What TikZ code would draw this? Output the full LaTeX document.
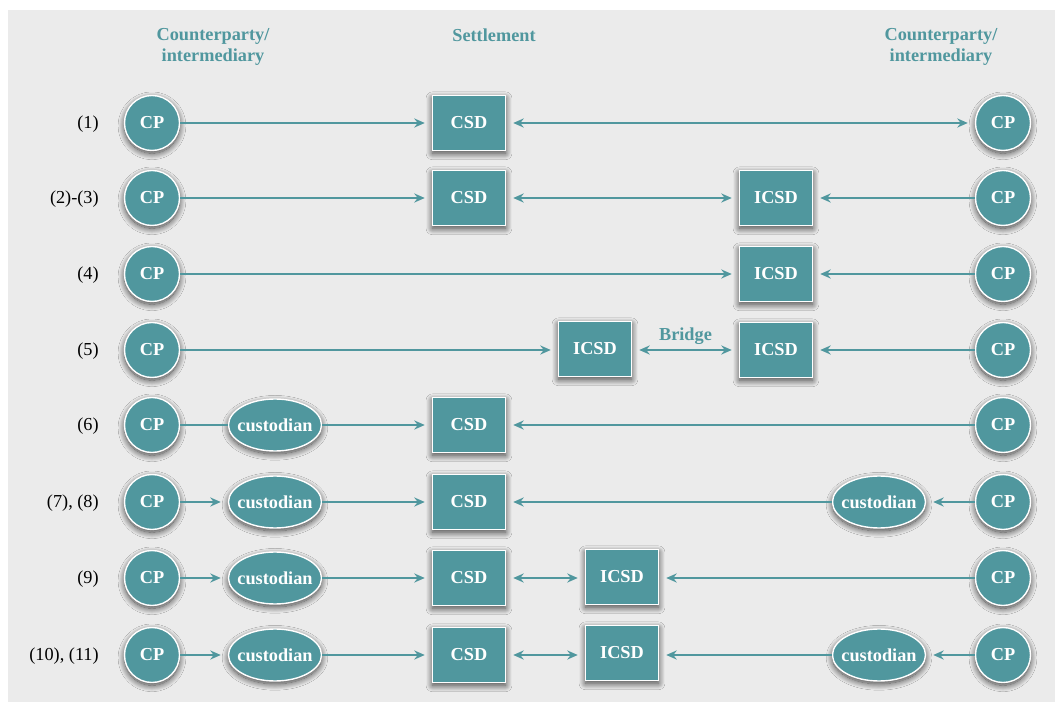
\documentclass[tikz,border=0pt]{standalone}
\usepackage{fontspec}
\setmainfont{Liberation Serif}
\usepackage{xcolor}
\usepackage{tikz}
\usetikzlibrary{shapes, arrows.meta, positioning, shadows.blur}
\definecolor{cpteal}{RGB}{80,151,158}
\definecolor{panelgray}{RGB}{235,235,235}
\tikzstyle{shade} = [blur shadow={shadow xshift=0pt, shadow yshift=-2pt, shadow blur radius=4.5pt, shadow blur steps=25, shadow opacity=75}]
\tikzstyle{cp} = [circle, draw=white, line width=1pt, fill=cpteal, text=white, font=\bfseries, minimum size=1.375cm, inner sep=0pt, shade]
\tikzstyle{sd} = [rectangle, draw=white, line width=1pt, fill=cpteal, text=white, font=\bfseries, minimum width=1.825cm, minimum height=1.375cm, inner sep=0pt, shade]
\tikzstyle{cust} = [ellipse, draw=white, line width=1pt, fill=cpteal, text=white, font=\bfseries, minimum width=2.325cm, minimum height=1.3cm, inner xsep=-5pt, inner ysep=0pt, shade]
\tikzstyle{head} = [text=cpteal, font=\bfseries, align=center]
\tikzstyle{rowlabel} = [anchor=east, inner sep=0pt]
\tikzstyle{line} = [draw=cpteal, line width=1pt]
\tikzstyle{arrow} = [line, -{Stealth[length=7.5pt, width=6.5pt, inset=2.5pt]}, shorten >=5pt]
\tikzstyle{darrow} = [line, {Stealth[length=7.5pt, width=6.5pt, inset=2.5pt]}-{Stealth[length=7.5pt, width=6.5pt, inset=2.5pt]}, shorten >=5pt, shorten <=5pt]

\begin{document}
\fontsize{13}{15}\selectfont
\begin{tikzpicture}[x=0.025cm, y=-0.025cm]
    \useasboundingbox (0,0) rectangle (1055,702);
    \fill[panelgray] (8,10) rectangle (1055,702);

    \node (headL) [head] at (213,47) {Counterparty/\\intermediary};
    \node (headS) [head] at (494,35) {Settlement};
    \node (headR) [head] at (941,47) {Counterparty/\\intermediary};

    \node (lbl1) [rowlabel] at (99,124) {(1)};
    \node (lbl2) [rowlabel] at (99,199) {(2)-(3)};
    \node (lbl4) [rowlabel] at (99,275) {(4)};
    \node (lbl5) [rowlabel] at (99,351) {(5)};
    \node (lbl6) [rowlabel] at (99,426) {(6)};
    \node (lbl7) [rowlabel] at (99,503) {(7), (8)};
    \node (lbl9) [rowlabel] at (99,579) {(9)};
    \node (lbl10) [rowlabel] at (99,656) {(10), (11)};

    \node (cpL1) [cp] at (152,123) {CP};
    \node (csd1) [sd] at (469,123) {CSD};
    \node (cpR1) [cp] at (1003,123) {CP};

    \node (cpL2) [cp] at (152,198) {CP};
    \node (csd2) [sd] at (469,198) {CSD};
    \node (icsd2) [sd] at (776,198) {ICSD};
    \node (cpR2) [cp] at (1003,198) {CP};

    \node (cpL4) [cp] at (152,274) {CP};
    \node (icsd4) [sd] at (776,274) {ICSD};
    \node (cpR4) [cp] at (1003,274) {CP};

    \node (cpL5) [cp] at (152,350) {CP};
    \node (icsdA5) [sd] at (595,349) {ICSD};
    \node (icsdB5) [sd] at (776,350) {ICSD};
    \node (cpR5) [cp] at (1003,350) {CP};

    \node (cpL6) [cp] at (152,425) {CP};
    \node (custL6) [cust] at (275,425) {custodian};
    \node (csd6) [sd] at (469,425) {CSD};
    \node (cpR6) [cp] at (1003,425) {CP};

    \node (cpL7) [cp] at (152,502) {CP};
    \node (custL7) [cust] at (275,502) {custodian};
    \node (csd7) [sd] at (469,502) {CSD};
    \node (custR7) [cust] at (879,502) {custodian};
    \node (cpR7) [cp] at (1003,502) {CP};

    \node (cpL9) [cp] at (152,578) {CP};
    \node (custL9) [cust] at (275,578) {custodian};
    \node (csd9) [sd] at (469,578) {CSD};
    \node (icsd9) [sd] at (622,577) {ICSD};
    \node (cpR9) [cp] at (1003,578) {CP};

    \node (cpL10) [cp] at (152,655) {CP};
    \node (custL10) [cust] at (275,655) {custodian};
    \node (csd10) [sd] at (469,655) {CSD};
    \node (icsd10) [sd] at (622,653) {ICSD};
    \node (custR10) [cust] at (879,655) {custodian};
    \node (cpR10) [cp] at (1003,655) {CP};

    \draw [arrow] (cpL1) -- (csd1);
    \draw [darrow] (csd1) -- (cpR1);

    \draw [arrow] (cpL2) -- (csd2);
    \draw [darrow] (csd2) -- (icsd2);
    \draw [arrow] (cpR2) -- (icsd2);

    \draw [arrow] (cpL4) -- (icsd4);
    \draw [arrow] (cpR4) -- (icsd4);

    \draw [arrow] (cpL5) -- (cpL5 -| icsdA5.west);
    \draw [darrow] (icsdA5.east |- icsdB5) -- node[head, above=-1pt] (bridge) {Bridge} (icsdB5);
    \draw [arrow] (cpR5) -- (icsdB5);

    \draw [line] (cpL6) -- (custL6);
    \draw [arrow] (custL6) -- (csd6);
    \draw [arrow] (cpR6) -- (csd6);

    \draw [arrow] (cpL7) -- (custL7);
    \draw [arrow] (custL7) -- (csd7);
    \draw [arrow] (custR7) -- (csd7);
    \draw [arrow] (cpR7) -- (custR7);

    \draw [arrow] (cpL9) -- (custL9);
    \draw [arrow] (custL9) -- (csd9);
    \draw [darrow] (csd9) -- (csd9 -| icsd9.west);
    \draw [arrow] (cpR9) -- (cpR9 -| icsd9.east);

    \draw [arrow] (cpL10) -- (custL10);
    \draw [arrow] (custL10) -- (csd10);
    \draw [darrow] (csd10) -- (csd10 -| icsd10.west);
    \draw [arrow] (custR10) -- (custR10 -| icsd10.east);
    \draw [arrow] (cpR10) -- (custR10);
\end{tikzpicture}
\end{document}
